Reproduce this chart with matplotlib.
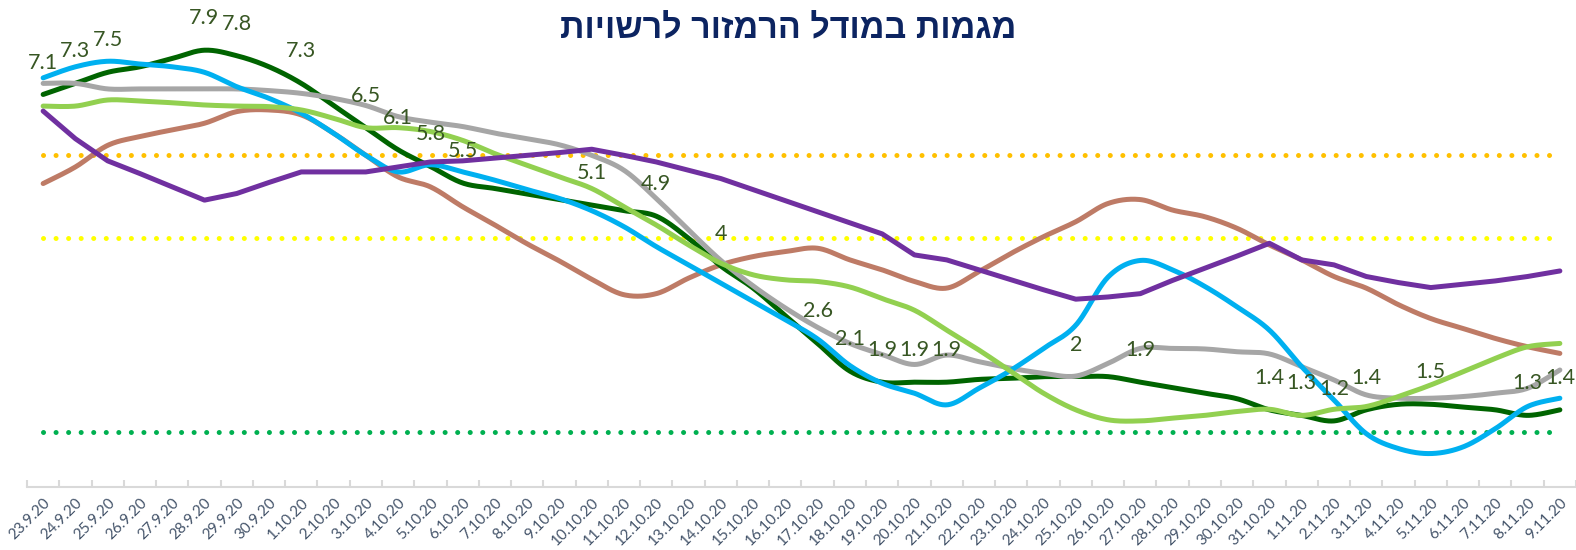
import numpy as np
import matplotlib
matplotlib.use('Agg')
import matplotlib.pyplot as plt

dates = ['23.9.20', '24.9.20', '25.9.20', '26.9.20', '27.9.20', '28.9.20', '29.9.20', '30.9.20',
         '1.10.20', '2.10.20', '3.10.20', '4.10.20', '5.10.20', '6.10.20', '7.10.20', '8.10.20',
         '9.10.20', '10.10.20', '11.10.20', '12.10.20', '13.10.20', '14.10.20', '15.10.20', '16.10.20',
         '17.10.20', '18.10.20', '19.10.20', '20.10.20', '21.10.20', '22.10.20', '23.10.20', '24.10.20',
         '25.10.20', '26.10.20', '27.10.20', '28.10.20', '29.10.20', '30.10.20', '31.10.20', '1.11.20',
         '2.11.20', '3.11.20', '4.11.20', '5.11.20', '6.11.20', '7.11.20', '8.11.20', '9.11.20']

dark_green = [7.1, 7.3, 7.5, 7.6, 7.75, 7.9, 7.8, 7.6, 7.3, 6.9, 6.5, 6.1, 5.8, 5.5, 5.4, 5.3,
              5.2, 5.1, 5.0, 4.9, 4.5, 4.0, 3.6, 3.1, 2.6, 2.1, 1.9, 1.9, 1.9, 1.95, 1.97, 2.0,
              2.0, 2.0, 1.9, 1.8, 1.7, 1.6, 1.4, 1.3, 1.2, 1.4, 1.5, 1.5, 1.45, 1.4, 1.3, 1.4]
blue = [7.4, 7.6, 7.7, 7.65, 7.6, 7.5, 7.24, 7.03, 6.76, 6.4, 6.0, 5.7, 5.83, 5.7, 5.55, 5.38,
        5.22, 5.0, 4.71, 4.35, 4.02, 3.69, 3.36, 3.03, 2.68, 2.2, 1.88, 1.7, 1.49, 1.79, 2.12, 2.51,
        2.93, 3.8, 4.1, 3.93, 3.63, 3.26, 2.84, 2.18, 1.58, 0.97, 0.7, 0.61, 0.73, 1.06, 1.46, 1.61]
gray = [7.3, 7.3, 7.2, 7.2, 7.2, 7.2, 7.2, 7.17, 7.12, 7.03, 6.9, 6.7, 6.6, 6.52, 6.4, 6.3,
        6.19, 6.0, 5.73, 5.22, 4.65, 4.1, 3.64, 3.24, 2.89, 2.6, 2.4, 2.22, 2.39, 2.27, 2.15, 2.06,
        2.01, 2.24, 2.51, 2.51, 2.5, 2.45, 2.41, 2.18, 1.94, 1.67, 1.61, 1.61, 1.64, 1.7, 1.79, 2.12]
light_green = [6.89, 6.89, 7.0, 6.98, 6.95, 6.91, 6.89, 6.88, 6.82, 6.67, 6.5, 6.5, 6.43, 6.27, 6.03, 5.82,
               5.61, 5.4, 5.07, 4.74, 4.38, 4.05, 3.84, 3.75, 3.72, 3.62, 3.41, 3.2, 2.84, 2.48, 2.09, 1.7,
               1.4, 1.22, 1.2, 1.25, 1.3, 1.37, 1.41, 1.3, 1.41, 1.46, 1.64, 1.85, 2.09, 2.33, 2.54, 2.6]
purple = [6.8, 6.3, 5.9, 5.67, 5.43, 5.19, 5.31, 5.51, 5.7, 5.7, 5.7, 5.79, 5.88, 5.9, 5.95, 6.0,
          6.05, 6.11, 6.0, 5.88, 5.73, 5.58, 5.38, 5.18, 4.98, 4.78, 4.58, 4.2, 4.11, 3.93, 3.75, 3.57,
          3.4, 3.44, 3.5, 3.74, 3.96, 4.18, 4.41, 4.11, 4.02, 3.81, 3.7, 3.61, 3.67, 3.73, 3.81, 3.91]
brown = [5.49, 5.79, 6.18, 6.34, 6.46, 6.58, 6.79, 6.82, 6.73, 6.4, 6.0, 5.61, 5.43, 5.07, 4.74, 4.4,
         4.09, 3.76, 3.48, 3.5, 3.78, 4.02, 4.17, 4.26, 4.32, 4.11, 3.93, 3.72, 3.6, 3.9, 4.23, 4.53,
         4.8, 5.13, 5.2, 5.01, 4.89, 4.68, 4.38, 4.11, 3.81, 3.6, 3.3, 3.05, 2.87, 2.69, 2.54, 2.42]

threshold_orange = 6.0
threshold_yellow = 4.5
threshold_green = 1.0

label_indices = [0, 1, 2, 5, 6, 8, 10, 11, 12, 13, 17, 19, 21, 24, 25, 26, 27, 28,
                 32, 34, 38, 39, 40, 41, 43, 46, 47]

title = 'מגמות במודל הרמזור לרשויות'


def smooth(ys, n=24):
    xs = np.arange(len(ys), dtype=float)
    P = np.column_stack([xs, np.asarray(ys, float)])
    Pe = np.vstack([P[0], P, P[-1]])
    t = np.linspace(0, 1, n, endpoint=False)[:, None]
    out = []
    for k in range(len(P) - 1):
        p0, p1, p2, p3 = Pe[k], Pe[k + 1], Pe[k + 2], Pe[k + 3]
        b1 = p1 + (p2 - p0) / 6
        b2 = p2 - (p3 - p1) / 6
        seg = (1 - t) ** 3 * p1 + 3 * (1 - t) ** 2 * t * b1 + 3 * (1 - t) * t ** 2 * b2 + t ** 3 * p2
        out.append(seg)
    out.append(P[-1:])
    s = np.vstack(out)
    return s[:, 0], s[:, 1]


fig = plt.figure(figsize=(15.76, 5.5), dpi=100)
ax = fig.add_axes([27 / 1576, 1 - 487.3 / 550, 1 - 27 / 1576, (487.3 - 17) / 550])
ax.set_xlim(-0.5, len(dates) - 0.5)
ax.set_ylim(0, 8.5)

x = np.arange(len(dates))
dot_style = dict(linestyle=(0, (0.01, 2.5)), linewidth=3.6, dash_capstyle='round', zorder=1)
ax.plot(x, [threshold_orange] * len(x), color='#FFC000', **dot_style)
ax.plot(x, [threshold_yellow] * len(x), color='#FFFF00', **dot_style)
ax.plot(x, [threshold_green] * len(x), color='#00B050', **dot_style)

lw = 3.6
for ys, col, z in [(brown, '#BE7B66', 3), (dark_green, '#006400', 4), (gray, '#A6A6A6', 5),
                   (blue, '#00B0F0', 6), (light_green, '#92D050', 7)]:
    sx, sy = smooth(ys)
    ax.plot(sx, sy, color=col, linewidth=lw, solid_capstyle='round', solid_joinstyle='round', zorder=z)
ax.plot(x, purple, color='#7030A0', linewidth=lw, solid_capstyle='round', solid_joinstyle='round', zorder=8)

for i in label_indices:
    v = dark_green[i]
    ax.annotate(f'{round(v, 1):g}', (i, v), xytext=(0, 23), textcoords='offset points',
                ha='center', va='center', fontsize=15.5, color='#375623', family='Lato',
                zorder=10, annotation_clip=False)

for s in ['top', 'right', 'left']:
    ax.spines[s].set_visible(False)
ax.spines['bottom'].set_color('#D9D9D9')
ax.spines['bottom'].set_linewidth(1.5)
ax.set_yticks([])
ax.set_xticks(x)
ax.set_xticklabels(dates, rotation=45, ha='right', rotation_mode='anchor',
                   fontsize=11, color='#44546A', family='Lato')
ax.tick_params(axis='x', which='major', length=0, pad=6)
ax.set_xticks(np.arange(-0.5, len(dates), 1), minor=True)
ax.tick_params(axis='x', which='minor', length=5, direction='in', color='#D9D9D9', width=1.5)

fig.text(0.5, 1 - 30 / 550, title[::-1], ha='center', va='center', fontsize=24.5, fontweight='bold',
         color='#0C2461', family=['Liberation Sans', 'DejaVu Sans'])

fig.savefig('out.png', dpi=100)
